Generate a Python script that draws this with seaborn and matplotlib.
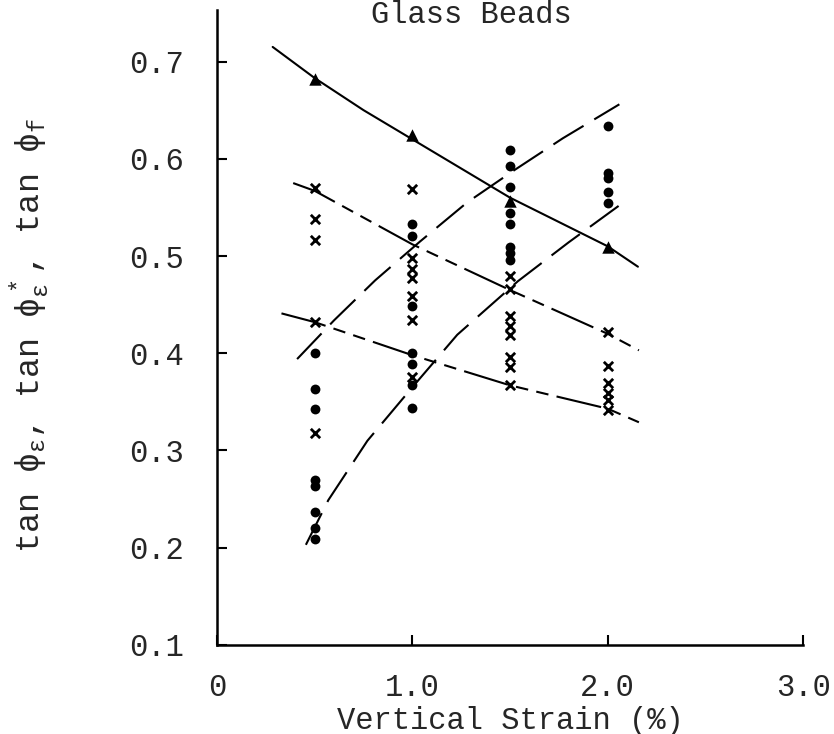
import matplotlib
matplotlib.use("Agg")
import matplotlib.pyplot as plt
import seaborn as sns
import pandas as pd

# ---------------- data ----------------
tri_strain = [0.5, 1.0, 1.5, 2.0]
tri_tan = [0.682, 0.624, 0.557, 0.509]

cross_strain = [0.5, 0.5, 0.5, 0.5, 0.5,
                1.0, 1.0, 1.0, 1.0, 1.0, 1.0, 1.0,
                1.5, 1.5, 1.5, 1.5, 1.5, 1.5, 1.5, 1.5,
                2.0, 2.0, 2.0, 2.0, 2.0, 2.0]
cross_tan = [0.570, 0.538, 0.516, 0.432, 0.318,
             0.569, 0.498, 0.487, 0.477, 0.459, 0.434, 0.376,
             0.479, 0.466, 0.438, 0.428, 0.419, 0.396, 0.386, 0.367,
             0.422, 0.387, 0.369, 0.359, 0.352, 0.342]

dot_strain = [0.5, 0.5, 0.5, 0.5, 0.5, 0.5, 0.5, 0.5,
              1.0, 1.0, 1.0, 1.0, 1.0, 1.0, 1.0,
              1.5, 1.5, 1.5, 1.5, 1.5, 1.5, 1.5, 1.5,
              2.0, 2.0, 2.0, 2.0, 2.0]
dot_tan = [0.400, 0.363, 0.343, 0.270, 0.263, 0.237, 0.220, 0.209,
           0.533, 0.521, 0.449, 0.400, 0.389, 0.367, 0.344,
           0.609, 0.593, 0.571, 0.544, 0.533, 0.509, 0.503, 0.496,
           0.634, 0.585, 0.580, 0.566, 0.554]

# fitted curves
fit_f_x = [0.285, 0.5, 0.75, 1.0, 1.5, 2.0, 2.155]
fit_f_y = [0.715, 0.683, 0.650, 0.620, 0.560, 0.510, 0.489]

fit_cross_hi_x = [0.39, 0.5, 1.0, 1.5, 2.0, 2.16]
fit_cross_hi_y = [0.575, 0.567, 0.512, 0.465, 0.420, 0.403]

fit_cross_lo_x = [0.33, 0.5, 1.0, 1.5, 2.0, 2.16]
fit_cross_lo_y = [0.441, 0.432, 0.398, 0.367, 0.343, 0.329]

fit_dot_hi_x = [0.41, 0.6, 0.81, 1.04, 1.28, 1.52, 1.77, 2.06]
fit_dot_hi_y = [0.394, 0.434, 0.475, 0.515, 0.555, 0.588, 0.621, 0.656]

fit_dot_lo_x = [0.455, 0.57, 0.77, 1.0, 1.23, 1.54, 1.8, 2.08]
fit_dot_lo_y = [0.203, 0.249, 0.310, 0.365, 0.419, 0.474, 0.514, 0.555]

x_ticks = [0, 1.0, 2.0, 3.0]
x_tick_labels = ["0", "1.0", "2.0", "3.0"]
y_ticks = [0.1, 0.2, 0.3, 0.4, 0.5, 0.6, 0.7]
y_tick_labels = ["0.1", "0.2", "0.3", "0.4", "0.5", "0.6", "0.7"]

# ---------------- style ----------------
sns.set_style("ticks")
plt.rcParams["font.family"] = ["Liberation Mono", "DejaVu Sans Mono", "DejaVu Sans"]
plt.rcParams["mathtext.default"] = "regular"
FS = 22

fig = plt.figure(figsize=(8.34, 7.34), dpi=100)
ax = fig.add_axes([0.2602, 0.1213, 0.7026, 0.8651])

lw = 1.5
curves = [
    (fit_f_x, fit_f_y, "solid"),
    (fit_cross_hi_x, fit_cross_hi_y, (0, (22, 4, 6, 4, 6, 4))),
    (fit_cross_lo_x, fit_cross_lo_y, (0, (22, 4, 6, 4, 6, 4))),
    (fit_dot_hi_x, fit_dot_hi_y, (0, (17, 6))),
    (fit_dot_lo_x, fit_dot_lo_y, (0, (17, 6))),
]
for cx, cy, ls in curves:
    d = pd.DataFrame({"x": cx, "y": cy})
    sns.lineplot(data=d, x="x", y="y", ax=ax, sort=False, estimator=None,
                 color="black", linewidth=lw, linestyle=ls)

df_dot = pd.DataFrame({"x": dot_strain, "y": dot_tan})
df_cross = pd.DataFrame({"x": cross_strain, "y": cross_tan})
df_tri = pd.DataFrame({"x": tri_strain, "y": tri_tan})

sns.scatterplot(data=df_dot, x="x", y="y", ax=ax, marker="o", s=50,
                color="black", edgecolor="black", linewidth=0, zorder=3)
sns.scatterplot(data=df_cross, x="x", y="y", ax=ax, marker="x", s=45,
                color="black", linewidth=2.0, zorder=3)
sns.scatterplot(data=df_tri, x="x", y="y", ax=ax, marker="^", s=80,
                color="black", edgecolor="black", linewidth=0, zorder=3)

ax.set_xlim(0, 3.0)
ax.set_ylim(0.1, 0.753)
ax.set_xticks(x_ticks)
ax.set_xticklabels(x_tick_labels, fontsize=FS)
ax.set_yticks(y_ticks)
ax.set_yticklabels(y_tick_labels, fontsize=FS)
ax.tick_params(axis="both", direction="in", length=7, width=1.5, color="black")
ax.tick_params(axis="x", pad=20)
ax.tick_params(axis="y", pad=24)

for side in ["top", "right"]:
    ax.spines[side].set_visible(False)
for side in ["left", "bottom"]:
    ax.spines[side].set_linewidth(1.8)
    ax.spines[side].set_color("black")

ax.set_xlabel("Vertical Strain (%)", fontsize=FS, labelpad=2)
ax.set_ylabel("")
fig.text(30 / 834, 1 - 335 / 734,
         r"tan $\phi_\varepsilon$, tan $\phi^*_\varepsilon$, tan $\phi_f$",
         rotation=90, fontsize=24, ha="center", va="center")

# title (at the very top edge, as in the original scan)
fig.text(471 / 834, 1.0, "Glass Beads", fontsize=FS,
         ha="center", va="top")

fig.savefig("out.png", dpi=100)
